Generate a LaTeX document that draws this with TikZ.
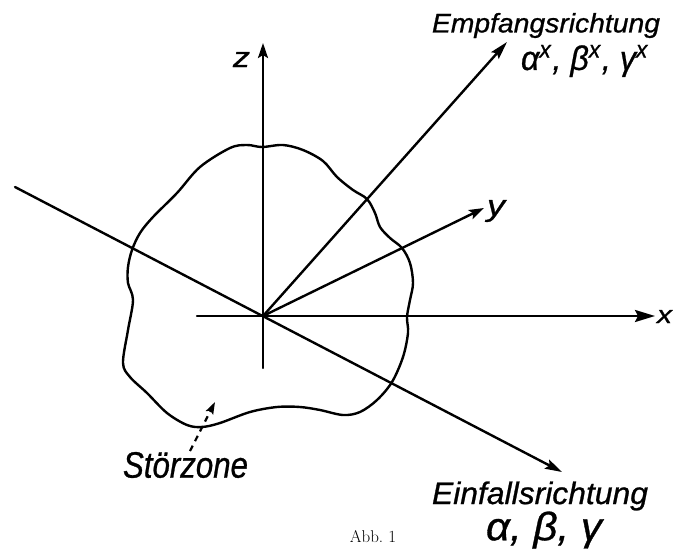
\documentclass[tikz,border=0pt]{standalone}
\usepackage{fontspec}
\newfontfamily\hand[FakeBold=0.8]{Liberation Sans}
\usetikzlibrary{arrows.meta}
\begin{document}
\begin{tikzpicture}[x=1pt,y=-1pt,
  axisline/.style={line width=2.4pt, line cap=round},
  axisarrow/.style={axisline, -{Stealth[length=18pt,width=10pt,inset=3pt]}},
  zonestroke/.style={line width=2.4pt},
  pointer/.style={line width=2.2pt, dash pattern=on 6pt off 5pt, -{Stealth[length=12pt,width=8pt,inset=2pt]}},
  lbl/.style={inner sep=0pt, outer sep=0pt, font=\hand\itshape},
  captext/.style={inner sep=0pt, font=\fontsize{17}{17}\selectfont}]
\useasboundingbox (0,0) rectangle (673,550);
% coordinates
\coordinate (O) at (263,316);
\coordinate (zb) at (263,368);
\coordinate (zt) at (263,43);
\coordinate (xb) at (197,316);
\coordinate (xt) at (655,316);
\coordinate (yt) at (484,208);
\coordinate (et) at (507,42);
\coordinate (fs) at (15,187);
\coordinate (ft) at (562,472);
\coordinate (ds) at (190,451);
\coordinate (dt) at (215,402);
% zone
\draw[zonestroke] plot[smooth cycle, tension=0.55] coordinates {
 (230,148) (247,145) (262,147) (283,145) (303,150) (323,161) (337,177)
 (353,190) (367,199)
 (375,213) (380,227) (390,238) (402,248) (410,263) (413,283) (410,300)
 (407,317) (408,333) (403,357) (392,382) (377,400) (360,412) (343,415)
 (320,410) (300,407) (277,407) (250,412) (220,423) (202,427) (187,425)
 (167,413) (147,393) (130,377) (123,363) (128,330) (133,300) (128,283)
 (128,267) (132,250) (140,233) (153,217) (177,193) (200,167)};
% axes
\draw[axisline] (O) -- (zb);
\draw[axisarrow,-{Stealth[length=15pt,width=10pt,inset=3pt]}] (O) -- (zt);
\draw[axisarrow,-{Stealth[length=20pt,width=12pt,inset=3pt]}] (xb) -- (xt);
\draw[axisarrow,-{Stealth[length=15pt,width=10pt,inset=3pt]}] (O) -- (yt);
\draw[axisarrow] (O) -- (et);
\draw[axisarrow,-{Stealth[length=17pt,width=10pt,inset=3pt]}] (fs) -- (ft);
\draw[pointer] (ds) -- (dt);
% labels
\node[lbl] (lz) at (241.5,59.5) {\resizebox*{17pt}{15pt}{z}};
\node[lbl] (ly) at (496,211) {\resizebox*{18pt}{22pt}{y}};
\node[lbl] (lx) at (664.5,316.5) {\resizebox*{15pt}{13pt}{x}};
\node[lbl] (le) at (546,25.5) {\resizebox*{228pt}{25pt}{Empfangsrichtung}};
\node[lbl] (leg) at (585,61) {\resizebox*{128pt}{32pt}{α\textsuperscript{x}, β\textsuperscript{x}, γ\textsuperscript{x}}};
\node[lbl] (lf) at (540,496) {\resizebox*{216pt}{29pt}{Einfallsrichtung}};
\node[lbl] (lfg) at (544,530) {\resizebox*{116pt}{37pt}{α, β, γ}};
\node[lbl] (ls) at (185.5,465) {\resizebox*{125pt}{26pt}{Störzone}};
\node[captext] (abb) at (373,537) {Abb.~1};
\end{tikzpicture}
\end{document}
